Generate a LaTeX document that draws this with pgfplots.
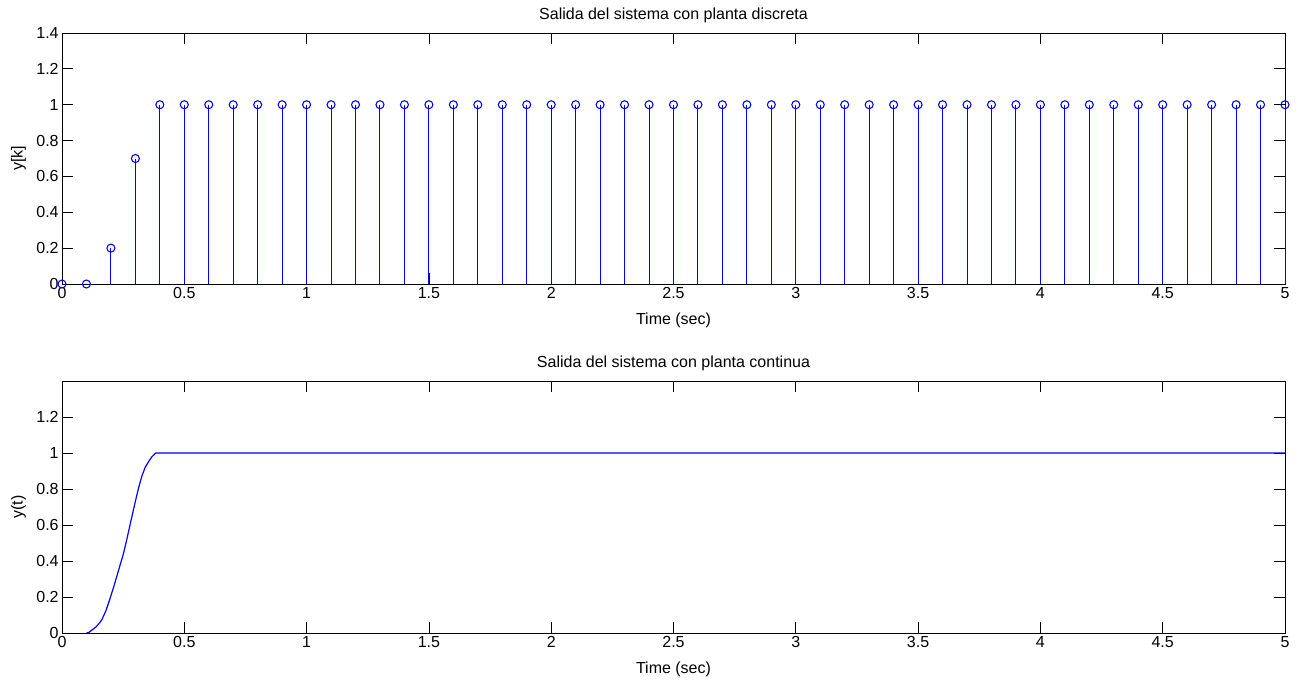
\documentclass[border=0pt]{standalone}
\usepackage{pgfplots}
\pgfplotsset{compat=1.18}
\usepackage{fontspec}
\setmainfont{Liberation Sans}
\definecolor{mblue}{RGB}{0,0,255}
\pgfplotsset{
  mystyle/.style={
    scale only axis,
    width=917.25pt,
    xmin=0, xmax=5, ymin=0, ymax=1.4,
    xtick={0,0.5,...,5},
    tick align=inside,
    major tick length=8pt,
    axis line style={black, line width=0.6pt},
    every tick/.style={black, line width=0.6pt},
    tick label style={font=\fontsize{12}{14}\selectfont},
    label style={font=\fontsize{12}{14}\selectfont},
    title style={font=\fontsize{12}{14}\selectfont},
    /pgf/number format/assume math mode=true,
    yticklabel style={xshift=1pt},
    xticklabel style={yshift=1pt},
    xlabel={Time (sec)},
    xlabel style={yshift=-3.5pt},
    ylabel style={yshift=1pt},
    clip=false,
    anchor=south west,
  }
}
\begin{document}
\begin{tikzpicture}
\path[use as bounding box] (0,0) rectangle (975pt,-509.25pt);
\begin{axis}[mystyle, at={(46.5pt,-213pt)}, height=188.25pt,
  ytick={0,0.2,...,1.4},
  ylabel={y[k]},
  title={Salida del sistema con planta discreta},
  title style={yshift=-2pt}]
\addplot[ycomb, draw=mblue, line width=0.75pt, mark=o, mark size=3pt, mark options={draw=mblue, line width=0.8pt}] coordinates {
(0,0) (0.1,0) (0.2,0.2) (0.3,0.7) (0.4,1) (0.5,1) (0.6,1) (0.7,1) (0.8,1) (0.9,1)
(1.0,1) (1.1,1) (1.2,1) (1.3,1) (1.4,1) (1.5,1) (1.6,1) (1.7,1) (1.8,1) (1.9,1)
(2.0,1) (2.1,1) (2.2,1) (2.3,1) (2.4,1) (2.5,1) (2.6,1) (2.7,1) (2.8,1) (2.9,1)
(3.0,1) (3.1,1) (3.2,1) (3.3,1) (3.4,1) (3.5,1) (3.6,1) (3.7,1) (3.8,1) (3.9,1)
(4.0,1) (4.1,1) (4.2,1) (4.3,1) (4.4,1) (4.5,1) (4.6,1) (4.7,1) (4.8,1) (4.9,1)
(5.0,1)
};
\end{axis}
\begin{axis}[mystyle, at={(46.5pt,-474.75pt)}, height=189pt,
  ytick={0,0.2,...,1.2},
  ylabel={y(t)},
  title={Salida del sistema con planta continua},
  title style={yshift=-2pt}]
\addplot[mblue, line width=0.9pt] coordinates {
(0.1,0) (0.11,0.003) (0.121,0.015) (0.14,0.035) (0.162,0.071) (0.18,0.125)
(0.196,0.19) (0.21,0.25) (0.223,0.31) (0.237,0.375) (0.251,0.44) (0.265,0.52)
(0.278,0.60) (0.298,0.72) (0.312,0.80) (0.326,0.87) (0.34,0.92) (0.353,0.95)
(0.368,0.98) (0.383,1.0) (5,1.0)
};
\end{axis}
\end{tikzpicture}
\end{document}
